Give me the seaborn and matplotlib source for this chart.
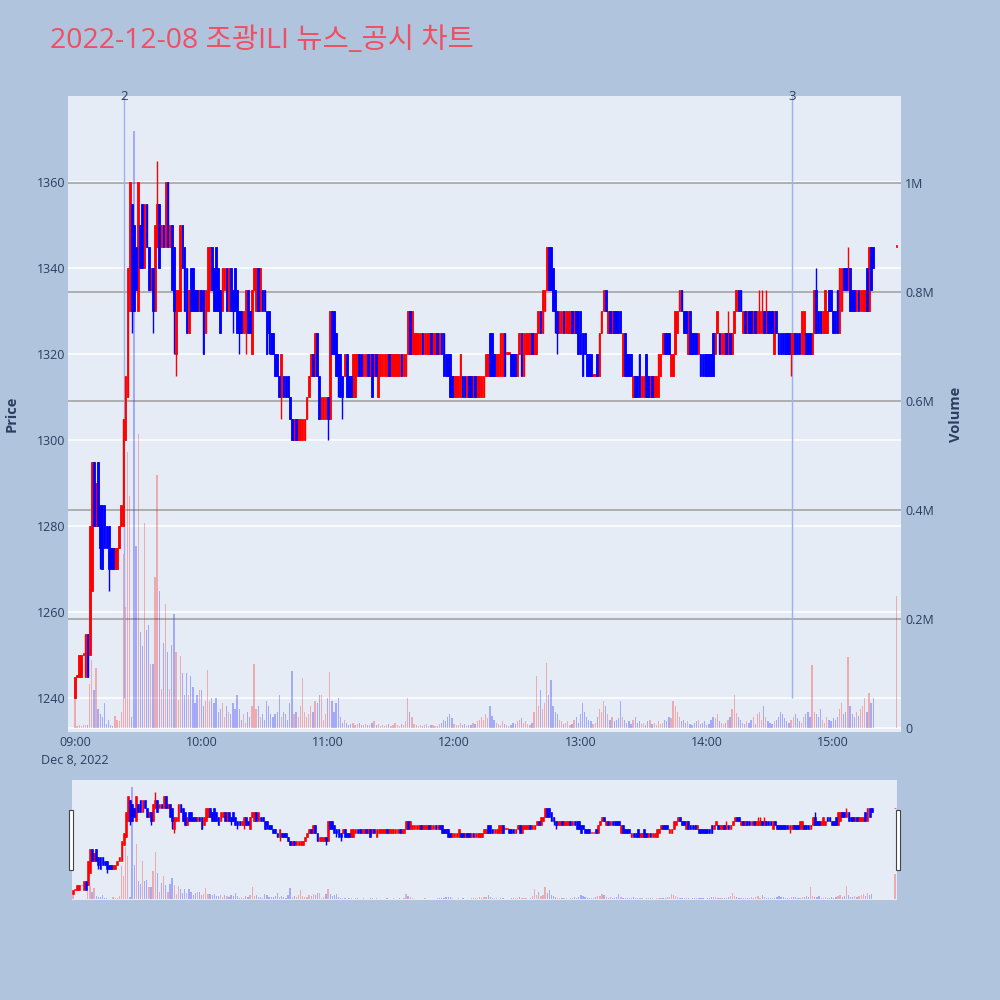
import numpy as np
import pandas as pd
import matplotlib
matplotlib.use("Agg")
import matplotlib.pyplot as plt
import seaborn as sns
from matplotlib.patches import Rectangle
from matplotlib.transforms import blended_transform_factory

sns.set_theme(style="white")
plt.rcParams["font.family"] = ["Open Sans", "Noto Sans CJK KR", "DejaVu Sans"]

# ---------------- data ----------------
title = "2022-12-08 조광ILI 뉴스_공시 차트"
session_start = "2022-12-08 09:00"

open_px = [
    1240, 1245, 1245, 1245, 1250, 1245, 1255, 1250, 1265, 1295,
    1280, 1295, 1285, 1285, 1285, 1280, 1280, 1275, 1275, 1270,
    1270, 1275, 1280, 1280, 1300, 1310, 1330, 1355, 1350, 1345,
    1330, 1350, 1355, 1340, 1355, 1345, 1335, 1340, 1330, 1345,
    1355, 1345, 1350, 1345, 1360, 1345, 1350, 1345, 1320, 1330,
    1330, 1350, 1345, 1340, 1325, 1340, 1340, 1335, 1335, 1330,
    1335, 1335, 1325, 1330, 1335, 1345, 1340, 1345, 1340, 1335,
    1330, 1335, 1340, 1330, 1340, 1335, 1340, 1335, 1330, 1330,
    1325, 1325, 1335, 1330, 1320, 1335, 1330, 1340, 1330, 1335,
    1335, 1330, 1330, 1325, 1325, 1320, 1320, 1315, 1310, 1315,
    1315, 1315, 1310, 1305, 1300, 1305, 1300, 1300, 1300, 1300,
    1305, 1310, 1315, 1320, 1315, 1325, 1315, 1305, 1305, 1305,
    1310, 1305, 1330, 1330, 1325, 1320, 1320, 1315, 1315, 1320,
    1315, 1315, 1310, 1310, 1315, 1320, 1320, 1315, 1315, 1320,
    1315, 1320, 1315, 1320, 1310, 1315, 1315, 1315, 1315, 1320,
    1315, 1315, 1315, 1315, 1315, 1320, 1315, 1315, 1320, 1330,
    1320, 1320, 1320, 1320, 1320, 1325, 1320, 1320, 1320, 1325,
    1320, 1320, 1325, 1320, 1325, 1325, 1320, 1320, 1320, 1315,
    1310, 1310, 1310, 1310, 1315, 1315, 1310, 1315, 1315, 1310,
    1315, 1310, 1310, 1310, 1310, 1315, 1315, 1325, 1325, 1320,
    1315, 1315, 1315, 1315, 1325, 1320, 1320, 1320, 1320, 1320,
    1315, 1320, 1325, 1315, 1320, 1320, 1320, 1325, 1320, 1320,
    1325, 1330, 1325, 1330, 1335, 1345, 1345, 1340, 1335, 1330,
    1325, 1325, 1330, 1325, 1325, 1325, 1330, 1325, 1330, 1330,
    1330, 1325, 1325, 1320, 1320, 1320, 1315, 1315, 1320, 1315,
    1325, 1330, 1335, 1325, 1330, 1325, 1330, 1330, 1330, 1330,
    1315, 1325, 1320, 1320, 1320, 1310, 1315, 1315, 1320, 1310,
    1310, 1320, 1315, 1310, 1315, 1310, 1310, 1310, 1315, 1320,
    1325, 1325, 1325, 1315, 1315, 1320, 1325, 1330, 1335, 1330,
    1330, 1320, 1330, 1325, 1325, 1325, 1320, 1320, 1320, 1320,
    1320, 1320, 1320, 1325, 1320, 1325, 1325, 1320, 1320, 1325,
    1320, 1325, 1320, 1325, 1330, 1335, 1335, 1325, 1330, 1325,
    1330, 1330, 1325, 1330, 1325, 1325, 1325, 1330, 1325, 1330,
    1330, 1330, 1320, 1330, 1325, 1325, 1325, 1325, 1325, 1325,
    1320, 1320, 1325, 1325, 1325, 1320, 1320, 1325, 1325, 1325,
    1320, 1325, 1335, 1330, 1330, 1325, 1325, 1325, 1335, 1335,
    1330, 1330, 1335, 1325, 1330, 1340, 1340, 1335, 1340, 1335,
    1335, 1330, 1335, 1330, 1330, 1330, 1340, 1330, 1345, 1345,
]
close_px = [
    1245, 1245, 1250, 1250, 1250, 1255, 1245, 1280, 1295, 1280,
    1290, 1280, 1275, 1270, 1275, 1275, 1270, 1270, 1270, 1275,
    1275, 1280, 1285, 1305, 1315, 1340, 1360, 1330, 1330, 1335,
    1360, 1340, 1340, 1355, 1345, 1335, 1340, 1330, 1350, 1355,
    1340, 1350, 1345, 1360, 1345, 1350, 1335, 1330, 1335, 1335,
    1350, 1340, 1330, 1325, 1335, 1330, 1330, 1330, 1330, 1335,
    1330, 1320, 1335, 1345, 1345, 1335, 1330, 1330, 1330, 1325,
    1340, 1340, 1330, 1340, 1330, 1330, 1330, 1325, 1325, 1325,
    1330, 1335, 1325, 1325, 1335, 1340, 1340, 1330, 1340, 1330,
    1330, 1320, 1325, 1320, 1320, 1315, 1315, 1310, 1320, 1310,
    1310, 1310, 1305, 1300, 1305, 1300, 1305, 1305, 1305, 1305,
    1310, 1315, 1320, 1315, 1325, 1315, 1305, 1310, 1310, 1310,
    1305, 1330, 1320, 1320, 1315, 1315, 1310, 1310, 1320, 1310,
    1310, 1310, 1320, 1320, 1320, 1315, 1315, 1320, 1320, 1315,
    1320, 1310, 1320, 1315, 1320, 1320, 1320, 1320, 1320, 1315,
    1320, 1320, 1320, 1320, 1320, 1315, 1320, 1320, 1330, 1320,
    1330, 1325, 1325, 1325, 1325, 1320, 1325, 1325, 1325, 1320,
    1325, 1325, 1320, 1325, 1320, 1315, 1315, 1315, 1310, 1310,
    1315, 1315, 1315, 1320, 1310, 1310, 1315, 1310, 1310, 1315,
    1310, 1315, 1315, 1315, 1315, 1320, 1320, 1315, 1315, 1315,
    1320, 1320, 1325, 1325, 1315, 1320, 1320, 1315, 1315, 1315,
    1320, 1325, 1315, 1325, 1325, 1325, 1325, 1320, 1325, 1325,
    1330, 1325, 1335, 1335, 1345, 1335, 1335, 1330, 1330, 1325,
    1330, 1330, 1325, 1330, 1330, 1330, 1325, 1330, 1325, 1320,
    1320, 1315, 1320, 1315, 1315, 1315, 1315, 1315, 1315, 1325,
    1330, 1335, 1330, 1330, 1325, 1330, 1325, 1325, 1325, 1325,
    1325, 1315, 1315, 1315, 1315, 1315, 1310, 1310, 1310, 1315,
    1315, 1310, 1310, 1315, 1310, 1315, 1315, 1320, 1320, 1325,
    1320, 1320, 1320, 1320, 1320, 1330, 1330, 1335, 1330, 1325,
    1325, 1330, 1320, 1320, 1320, 1320, 1325, 1315, 1315, 1315,
    1315, 1315, 1315, 1315, 1325, 1330, 1320, 1325, 1325, 1320,
    1325, 1320, 1325, 1330, 1335, 1330, 1330, 1330, 1325, 1330,
    1325, 1325, 1330, 1325, 1330, 1330, 1330, 1325, 1330, 1325,
    1325, 1325, 1330, 1325, 1320, 1320, 1320, 1320, 1320, 1320,
    1325, 1325, 1320, 1320, 1320, 1330, 1330, 1320, 1320, 1320,
    1325, 1335, 1325, 1325, 1325, 1330, 1335, 1330, 1330, 1330,
    1325, 1325, 1325, 1340, 1340, 1335, 1335, 1340, 1330, 1330,
    1330, 1335, 1330, 1335, 1335, 1335, 1330, 1345, 1335, 1340,
]
volume_k = [
    55, 3, 5, 4, 6, 5, 6, 80, 125, 70,
    110, 35, 25, 20, 45, 8, 15, 5, 3, 22,
    15, 12, 30, 320, 222, 506, 425, 20, 1095, 334,
    539, 176, 150, 376, 180, 189, 117, 117, 277, 464,
    251, 72, 156, 228, 139, 72, 153, 209, 139, 52,
    132, 101, 60, 101, 60, 95, 75, 45, 60, 70,
    70, 40, 50, 106, 50, 55, 45, 55, 30, 35,
    45, 20, 40, 30, 25, 45, 35, 60, 35, 15,
    25, 10, 30, 20, 40, 117, 35, 40, 20, 25,
    15, 50, 40, 25, 20, 25, 30, 60, 20, 30,
    25, 15, 45, 105, 25, 30, 20, 40, 92, 30,
    20, 25, 40, 30, 50, 45, 60, 60, 15, 25,
    55, 103, 50, 30, 45, 55, 20, 10, 15, 10,
    5, 8, 10, 5, 8, 10, 5, 5, 8, 5,
    5, 10, 12, 6, 8, 4, 6, 3, 5, 8,
    4, 6, 10, 5, 3, 8, 6, 12, 55, 30,
    20, 8, 5, 4, 6, 3, 5, 8, 4, 6,
    5, 4, 3, 8, 10, 15, 12, 20, 25, 18,
    8, 5, 6, 10, 5, 8, 4, 6, 5, 10,
    8, 12, 15, 20, 15, 25, 18, 40, 22, 15,
    10, 8, 6, 12, 8, 5, 4, 6, 10, 8,
    12, 15, 18, 10, 12, 8, 6, 10, 30, 95,
    40, 70, 35, 45, 120, 60, 88, 40, 30, 25,
    15, 12, 8, 10, 12, 6, 8, 15, 20, 10,
    25, 45, 30, 20, 15, 12, 8, 10, 20, 35,
    30, 50, 40, 25, 15, 20, 12, 15, 18, 50,
    20, 15, 10, 12, 8, 15, 20, 10, 12, 8,
    10, 6, 12, 15, 8, 10, 6, 12, 8, 10,
    15, 12, 20, 18, 50, 40, 30, 20, 12, 15,
    10, 12, 8, 6, 10, 12, 15, 8, 10, 12,
    6, 8, 15, 20, 18, 25, 12, 10, 8, 10,
    15, 20, 35, 60, 28, 20, 15, 10, 8, 12,
    10, 15, 20, 8, 25, 30, 15, 40, 20, 12,
    10, 8, 12, 15, 20, 30, 25, 18, 12, 10,
    15, 20, 25, 18, 12, 10, 20, 25, 30, 20,
    115, 30, 25, 20, 35, 15, 10, 20, 15, 12,
    18, 15, 20, 35, 45, 25, 30, 130, 40, 25,
    20, 30, 22, 35, 40, 55, 30, 64, 45, 55,
]
# wick extremes (minute index -> price)
wick_high = {39: 1365, 310: 1330, 325: 1335, 326: 1335, 328: 1335, 352: 1340, 367: 1345}
wick_low = {12: 1270, 16: 1265, 27: 1325, 37: 1325, 47: 1320, 48: 1315, 75: 1325,
            78: 1320, 81: 1320, 92: 1320, 98: 1305, 120: 1300, 125: 1310, 127: 1305,
            228: 1325, 229: 1320, 340: 1315}
# closing auction print
auction_time = "2022-12-08 15:30"
auction_open, auction_close, auction_vol_k = 1345, 1345, 242

news_times = ["2022-12-08 09:23:20", "2022-12-08 14:40:30"]
news_labels = ["2", "3"]

price_ticks = [1240, 1260, 1280, 1300, 1320, 1340, 1360]
volume_ticks = [0, 200_000, 400_000, 600_000, 800_000, 1_000_000]
volume_tick_labels = ["0", "0.2M", "0.4M", "0.6M", "0.8M", "1M"]
hour_ticks = ["09:00", "10:00", "11:00", "12:00", "13:00", "14:00", "15:00"]
date_label = "Dec 8, 2022"

# ---------------- frame ----------------
t0 = pd.Timestamp(session_start)
times = list(pd.date_range(session_start, periods=len(open_px), freq="min")) + [pd.Timestamp(auction_time)]
df = pd.DataFrame({
    "time": times,
    "open": open_px + [auction_open],
    "close": close_px + [auction_close],
    "volume": [v * 1000 for v in volume_k] + [auction_vol_k * 1000],
})
df["x"] = (df["time"] - t0).dt.total_seconds() / 60.0
df["high"] = df[["open", "close"]].max(axis=1)
df["low"] = df[["open", "close"]].min(axis=1)
for k, v in wick_high.items():
    df.loc[k, "high"] = v
for k, v in wick_low.items():
    df.loc[k, "low"] = v
df["up"] = df["close"] >= df["open"]

RED, BLUE = "#FF0000", "#0000FF"
BG_FIG, BG_PLOT = "#B0C4DE", "#E5ECF6"
TXT = "#2A3F5F"

PRICE_LIM = (1232.1, 1380.0)
VOL_LIM = (-7_300, 1_159_600)


def draw(ax_vol, ax_price, body_w=0.82, lw=0.6):
    for up, col in [(True, RED), (False, BLUE)]:
        d = df[df["up"] == up]
        ax_vol.bar(d["x"], d["volume"], width=0.6, color=col, alpha=0.28,
                   linewidth=0, zorder=3)
        ax_price.vlines(d["x"], d["low"], d["high"], color=col, lw=1.0, zorder=3)
        h = (d["close"] - d["open"]).abs().clip(lower=0.45)
        ax_price.bar(d["x"], h, bottom=d[["open", "close"]].min(axis=1), width=body_w,
                     color=col, edgecolor=col, linewidth=lw, zorder=4)


fig = plt.figure(figsize=(10, 10), dpi=100, facecolor=BG_FIG)

# main panel
ax_vol = fig.add_axes([0.068, 0.268, 0.833, 0.636], facecolor=BG_PLOT)
ax_price = ax_vol.twinx()
ax_price.set_ylim(*PRICE_LIM)
ax_vol.set_ylim(*VOL_LIM)
ax_vol.set_xlim(-3.3, 392.2)
ax_price.set_xlim(-3.3, 392.2)

trans_p = blended_transform_factory(ax_vol.transAxes, ax_price.transData)
for p in price_ticks:
    ax_vol.plot([0, 1], [p, p], transform=trans_p, color="white", lw=1.1, zorder=1)
ax_vol.axhline(0, color="white", lw=1.1, zorder=1)
for v in volume_ticks[1:]:
    ax_vol.axhline(v, color="#A3A3A3", lw=1.2, zorder=2)

draw(ax_vol, ax_price)

# news markers
for nt, lab in zip(news_times, news_labels):
    xm = (pd.Timestamp(nt) - t0).total_seconds() / 60.0
    ax_price.vlines(xm, 1240, PRICE_LIM[1], color="#9DB0F2", lw=1.0, zorder=2)
    ax_price.text(xm, PRICE_LIM[1], lab, ha="center", va="center", fontsize=9.5,
                  color=TXT, zorder=5)

for a in (ax_vol, ax_price):
    for s in a.spines.values():
        s.set_visible(False)
    a.grid(False)

ax_price.yaxis.set_ticks_position("left")
ax_price.yaxis.set_label_position("left")
ax_vol.yaxis.set_ticks_position("right")
ax_vol.yaxis.set_label_position("right")

ax_price.set_yticks(price_ticks)
ax_price.set_yticklabels([str(p) for p in price_ticks])
ax_vol.set_yticks(volume_ticks)
ax_vol.set_yticklabels(volume_tick_labels)
ax_price.tick_params(axis="y", length=0, pad=2, labelsize=9, labelcolor=TXT)
ax_vol.tick_params(axis="y", length=0, pad=3, labelsize=9, labelcolor=TXT)

xt = [(pd.Timestamp("2022-12-08 " + h) - t0).total_seconds() / 60.0 for h in hour_ticks]
ax_vol.set_xticks(xt)
labels = [hour_ticks[0] + "\n" + date_label] + hour_ticks[1:]
ax_vol.set_xticklabels(labels, linespacing=1.45)
ax_vol.tick_params(axis="x", length=0, pad=3, labelsize=9, labelcolor=TXT)
ax_price.tick_params(axis="x", length=0, labelbottom=False)

ax_price.set_ylabel("Price", fontsize=10.5, fontweight="bold", color=TXT, labelpad=13)
ax_vol.set_ylabel("Volume", fontsize=10.5, fontweight="bold", color=TXT, labelpad=11)

fig.text(0.05, 0.9595, title, fontsize=20.5, color="#EF4F62", ha="left", va="center")

# range slider
sl_vol = fig.add_axes([0.072, 0.100, 0.825, 0.120], facecolor=BG_PLOT)
sl_price = sl_vol.twinx()
sl_vol.set_ylim(*VOL_LIM)
sl_price.set_ylim(*PRICE_LIM)
sl_vol.set_xlim(-0.5, 391.0)
sl_price.set_xlim(-0.5, 391.0)
draw(sl_vol, sl_price, body_w=0.85, lw=0.4)
for a in (sl_vol, sl_price):
    a.set_xticks([])
    a.set_yticks([])
    for s in a.spines.values():
        s.set_visible(False)

for xpx in (68.5, 895.5):
    fig.patches.append(Rectangle((xpx / 1000, 1 - 870 / 1000), 4 / 1000, 60 / 1000,
                                 transform=fig.transFigure, facecolor="white",
                                 edgecolor="#444444", linewidth=0.8, zorder=10))

fig.savefig("out.png", dpi=100, facecolor=BG_FIG)
